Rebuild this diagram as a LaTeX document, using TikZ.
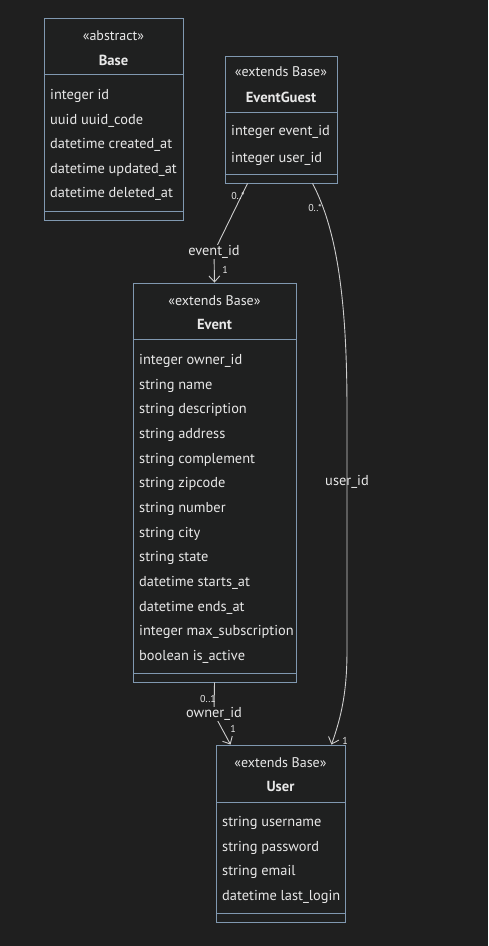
\documentclass[tikz,border=0pt]{standalone}
\usepackage{fontspec}
\setmainfont{PT Sans}
\usetikzlibrary{arrows.meta,calc}
\definecolor{bg}{RGB}{31,31,31}
\definecolor{boxfill}{RGB}{31,32,32}
\definecolor{boxline}{RGB}{128,152,176}
\definecolor{txt}{RGB}{232,232,232}
\definecolor{edgec}{RGB}{205,205,205}
\tikzset{
  umlbox/.style={draw=boxline, fill=boxfill, line width=0.9pt, rectangle, inner sep=0pt},
  divider/.style={draw=boxline, line width=0.9pt},
  attr/.style={anchor=base west, inner sep=0pt, text=txt, font=\fontsize{14.4}{16}\selectfont},
  stereo/.style={anchor=base, inner sep=0pt, text=txt, font=\fontsize{14}{16}\selectfont},
  cname/.style={anchor=base, inner sep=0pt, text=txt, font=\fontsize{14.6}{16}\selectfont\bfseries},
  edge/.style={draw=edgec, line width=0.9pt, -{Straight Barb[length=6pt,width=11pt,line width=0.9pt]}},
  lbl/.style={fill=bg, inner sep=0.8pt, text=txt, font=\fontsize{14.4}{16}\selectfont},
  card/.style={inner sep=0pt, text=txt, font=\fontsize{10}{11}\selectfont},
}
\begin{document}
\begin{tikzpicture}[x=1pt,y=-1pt]
\fill[bg] (0,0) rectangle (488,946);
\useasboundingbox (0,0) rectangle (488,946);

% ---------- Base ----------
\node[umlbox, minimum width=139pt, minimum height=202pt] (base) at (113.5,119) {};
\draw[divider] (44,74) -- (183,74);
\draw[divider] (44,211) -- (183,211);
\node[stereo] (base-s) at (113.5,40) {«abstract»};
\node[cname] (base-n) at (113.5,65) {Base};
\node[attr] (base-a1) at (50,99) {integer id};
\node[attr] (base-a2) at (50,124) {uuid uuid\_code};
\node[attr] (base-a3) at (50,148) {datetime created\_at};
\node[attr] (base-a4) at (50,173) {datetime updated\_at};
\node[attr] (base-a5) at (50,197) {datetime deleted\_at};

% ---------- EventGuest ----------
\node[umlbox, minimum width=112pt, minimum height=127pt] (eg) at (281,119.5) {};
\draw[divider] (225,112) -- (337,112);
\draw[divider] (225,174) -- (337,174);
\node[stereo] (eg-s) at (281,76.5) {«extends Base»};
\node[cname] (eg-n) at (281,102) {EventGuest};
\node[attr] (eg-a1) at (231,135) {integer event\_id};
\node[attr] (eg-a2) at (231,162) {integer user\_id};

% ---------- Event ----------
\node[umlbox, minimum width=163pt, minimum height=399pt] (ev) at (214.5,482.5) {};
\draw[divider] (133,339) -- (296,339);
\draw[divider] (133,673) -- (296,673);
\node[stereo] (ev-s) at (214.5,305.5) {«extends Base»};
\node[cname] (ev-n) at (214.5,329) {Event};
\node[attr] (ev-a1) at (139,364) {integer owner\_id};
\node[attr] (ev-a2) at (139,389) {string name};
\node[attr] (ev-a3) at (139,413) {string description};
\node[attr] (ev-a4) at (139,438) {string address};
\node[attr] (ev-a5) at (139,463) {string complement};
\node[attr] (ev-a6) at (139,487) {string zipcode};
\node[attr] (ev-a7) at (139,512) {string number};
\node[attr] (ev-a8) at (139,537) {string city};
\node[attr] (ev-a9) at (139,561) {string state};
\node[attr] (ev-a10) at (139,586) {datetime starts\_at};
\node[attr] (ev-a11) at (139,611) {datetime ends\_at};
\node[attr] (ev-a12) at (139,635) {integer max\_subscription};
\node[attr] (ev-a13) at (139,660) {boolean is\_active};

% ---------- User ----------
\node[umlbox, minimum width=129pt, minimum height=177pt] (user) at (280.5,833.5) {};
\draw[divider] (216,802) -- (345,802);
\draw[divider] (216,913) -- (345,913);
\node[stereo] (user-s) at (280.5,767.5) {«extends Base»};
\node[cname] (user-n) at (280.5,791) {User};
\node[attr] (user-a1) at (222,826) {string username};
\node[attr] (user-a2) at (222,851) {string password};
\node[attr] (user-a3) at (222,875) {string email};
\node[attr] (user-a4) at (222,900) {datetime last\_login};

% ---------- connectors ----------
\coordinate (egA) at ($(eg.south west)+(23,0)$);
\coordinate (egB) at ($(eg.south west)+(88,0)$);
\coordinate (uA) at ($(user.north west)+(15,0)$);
\coordinate (uB) at ($(user.north east)+(-14,0)$);

\draw[edge] (egA) -- (214,252) node[lbl] (l-event) {event\_id} -- (ev.north);
\draw[edge] (egB) .. controls (337,230) and (347,300) .. (347,410)
  -- (347,482) node[lbl, fill=none] (l-user) {user\_id}
  -- (347,650) .. controls (347,690) and (342,715) .. (uB);
\draw[edge] (ev.south) -- (214,714) node[lbl] (l-owner) {owner\_id} -- (uA);

% ---------- cardinalities ----------
\node[card] (c1) at (238,196) {0..*};
\node[card] (c2) at (225,270) {1};
\node[card] (c3) at (315,208) {0..*};
\node[card] (c4) at (208,699) {0..1};
\node[card] (c5) at (233,729) {1};
\node[card] (c6) at (345,741) {1};
\end{tikzpicture}
\end{document}
